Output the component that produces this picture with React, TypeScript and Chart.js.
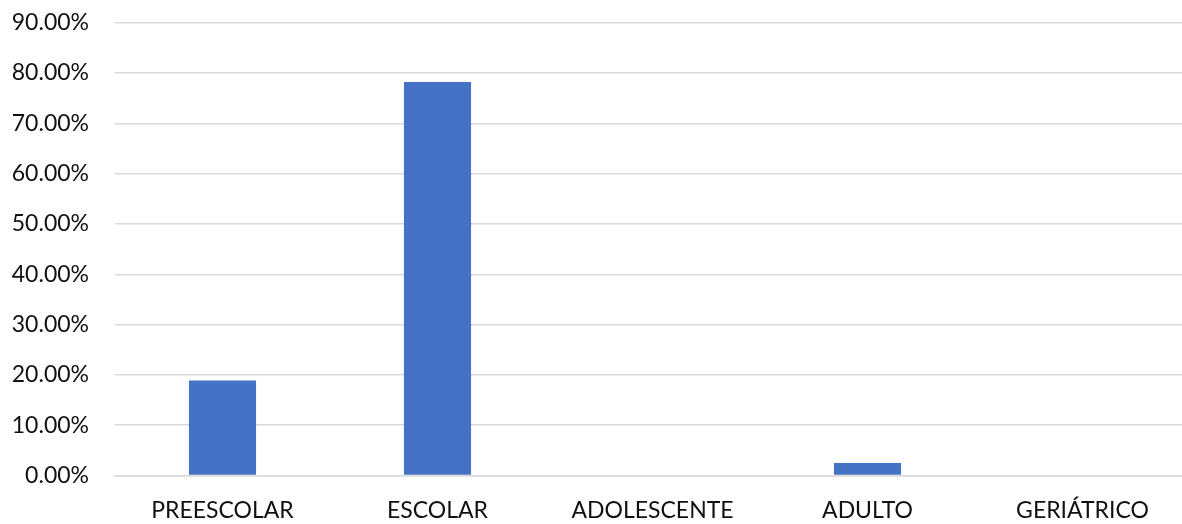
import React, { useEffect, useRef } from "react";
import { Chart, registerables } from "chart.js";

Chart.register(...registerables);

const categories = ["PREESCOLAR", "ESCOLAR", "ADOLESCENTE", "ADULTO", "GERIÁTRICO"];
const values = [18.9, 78.2, 0, 2.5, 0];
const yMin = 0;
const yMax = 90;
const yStep = 10;

export default function App() {
  const ref = useRef<HTMLCanvasElement>(null);
  useEffect(() => {
    document.body.style.margin = "0";
    const font = { family: "Lato, 'Open Sans', sans-serif", size: 23 };
    const chart = new Chart(ref.current!, {
      type: "bar",
      data: {
        labels: categories,
        datasets: [
          {
            data: values,
            backgroundColor: "#4472C4",
            barPercentage: 0.312,
            categoryPercentage: 1,
          },
        ],
      },
      options: {
        animation: false,
        responsive: false,
        maintainAspectRatio: false,
        layout: { padding: { top: 22.7, right: 0, left: 0, bottom: 0 } },
        plugins: { legend: { display: false }, tooltip: { enabled: false } },
        scales: {
          x: {
            grid: { display: false, drawTicks: false },
            border: { display: true, color: "#D9D9D9", width: 1.5 },
            ticks: { font, color: "#111", padding: 21, maxRotation: 0, autoSkip: false },
            afterFit: (s: any) => {
              s.height = 48.5;
            },
          },
          y: {
            min: yMin,
            max: yMax,
            grid: { color: "#D9D9D9", lineWidth: 1.5, drawTicks: false },
            border: { display: false },
            ticks: {
              stepSize: yStep,
              font,
              color: "#111",
              padding: 26,
              callback: (v: any) => Number(v).toFixed(2) + "%",
            },
            afterFit: (s: any) => {
              s.width = 115;
              s.paddingTop = 0;
              s.paddingBottom = 0;
            },
          },
        },
      },
    });
    return () => chart.destroy();
  }, []);
  return (
    <div style={{ width: 1182, height: 524, overflow: "hidden" }}>
      <canvas ref={ref} width={1190} height={524} />
    </div>
  );
}
